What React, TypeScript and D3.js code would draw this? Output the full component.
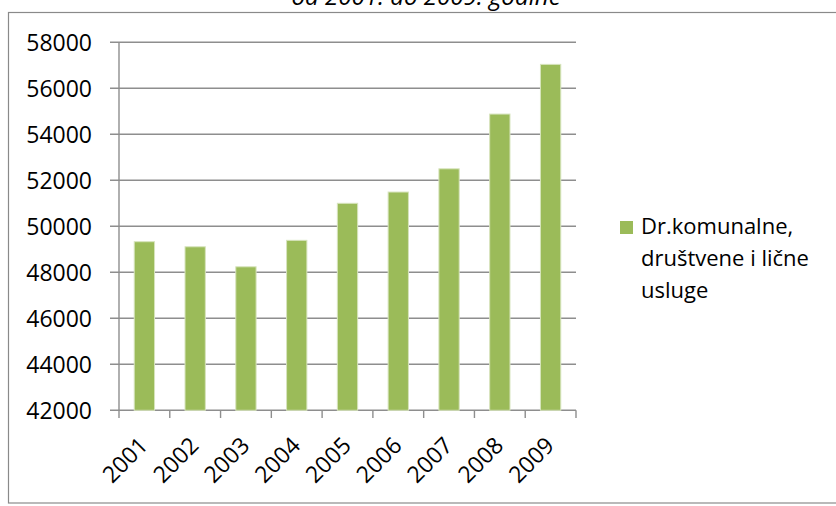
import React, { useEffect } from "react";
import * as d3 from "d3";

const years = ["2001", "2002", "2003", "2004", "2005", "2006", "2007", "2008", "2009"];
const values = [49330, 49110, 48240, 49390, 51000, 51490, 52500, 54880, 57040];
const yTicks = [42000, 44000, 46000, 48000, 50000, 52000, 54000, 56000, 58000];
const seriesName = ["Dr.komunalne,", "društvene i lične", "usluge"];
const titleText = "od 2001. do 2009. godine";

const W = 836;
const H = 506;
const FONT = "'Open Sans', 'DejaVu Sans', sans-serif";

export default function App() {
  useEffect(() => {
    document.body.style.margin = "0";
  }, []);

  const x0 = 119, x1 = 576, yTop = 42.3, yBot = 410.3;
  const x = d3.scaleBand<string>().domain(years).range([x0, x1]).paddingInner(0.6).paddingOuter(0.3);
  const band = d3.scaleBand<string>().domain(years).range([x0, x1]);
  const y = d3.scaleLinear().domain([42000, 58000]).range([yBot, yTop]);
  const grid = "#8E8E8E";

  return (
    <svg width={W} height={H} style={{ display: "block", background: "#fff" }} fontFamily={FONT}>
      <rect x={8.5} y={12.5} width={W + 10} height={490.5} fill="#fff" stroke="#8A8A8A" strokeWidth={1.2} />
      <text x={426} y={4.5} textAnchor="middle" fontStyle="italic" fontSize={24} fill="#000">
        {titleText}
      </text>
      {yTicks.map((t) => (
        <g key={t}>
          <line x1={110} x2={x1} y1={y(t)} y2={y(t)} stroke={grid} strokeWidth={1.4} />
          <text x={92} y={y(t)} dy="0.36em" textAnchor="end" fontSize={23} fill="#000">
            {t}
          </text>
        </g>
      ))}
      <line x1={x0} x2={x0} y1={yTop} y2={yBot} stroke={grid} strokeWidth={1.4} />
      {years.concat(["end"]).map((yr, i) => {
        const xx = x0 + i * band.bandwidth();
        return <line key={yr} x1={xx} x2={xx} y1={yBot} y2={418} stroke={grid} strokeWidth={1.4} />;
      })}
      {years.map((yr, i) => (
        <rect
          key={yr}
          x={x(yr)}
          y={y(values[i])}
          width={x.bandwidth()}
          height={yBot - y(values[i])}
          fill="#9BBB59"
          stroke="#D7E4BD"
          strokeWidth={1}
        />
      ))}
      {years.map((yr) => {
        const cx = (band(yr) as number) + band.bandwidth() / 2;
        return (
          <text
            key={yr}
            transform={`translate(${cx + 5},${447}) rotate(-45)`}
            textAnchor="end"
            fontSize={23}
            fill="#000"
          >
            {yr}
          </text>
        );
      })}
      <rect x={620} y={221} width={13} height={13} fill="#9BBB59" />
      {seriesName.map((s, i) => (
        <text key={s} x={641} y={234 + i * 32} fontSize={22} fill="#000">
          {s}
        </text>
      ))}
    </svg>
  );
}
